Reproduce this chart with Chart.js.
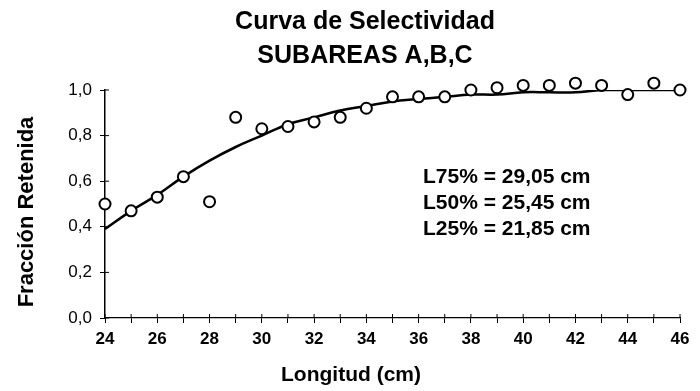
<!DOCTYPE html>
<html>
<head>
<meta charset="utf-8">
<script src="https://cdn.jsdelivr.net/npm/chart.js@4/dist/chart.umd.min.js"></script>
<style>
  html, body { margin: 0; padding: 0; background: #fff; }
  #wrap { width: 700px; height: 391px; position: relative; }
</style>
</head>
<body>
<div id="wrap"><canvas id="chart"></canvas></div>
<script>
var lengths = [24, 25, 26, 27, 28, 29, 30, 31, 32, 33, 34, 35, 36, 37, 38, 39, 40, 41, 42, 43, 44, 45, 46];
// observed fraction retained (circles)
var retained = [0.50, 0.47, 0.53, 0.62, 0.51, 0.88, 0.83, 0.84, 0.86, 0.88, 0.92, 0.97, 0.97, 0.97, 1.00, 1.01, 1.02, 1.02, 1.03, 1.02, 0.98, 1.03, 1.00];
// fitted curve
var fitted = [0.39, 0.47, 0.54, 0.62, 0.69, 0.75, 0.80, 0.85, 0.88, 0.91, 0.93, 0.95, 0.96, 0.97, 0.98, 0.98, 0.99, 0.99, 0.99, 1.00, 1.00, 1.00, 1.00];
var yTicks = [0, 0.2, 0.4, 0.6, 0.8, 1.0];
var titleLines = ["Curva de Selectividad", "SUBAREAS A,B,C"];
var notes = ["L75% = 29,05 cm", "L50% = 25,45 cm", "L25% = 21,85 cm"];
var xTitle = "Longitud (cm)";
var yTitle = "Fracción Retenida";

var FONT = '"Liberation Sans", Arial, sans-serif';
var ctx = document.getElementById("chart").getContext('2d');

function pts(ys) {
  return lengths.map(function (x, i) { return { x: x, y: ys[i] }; });
}

// titles, the L% notes and the inner half of the tick marks
var extras = {
  id: 'extras',
  afterDraw: function (chart) {
    var c = chart.ctx, a = chart.chartArea;
    var xs = chart.scales.x, ys = chart.scales.y;
    c.save();
    c.strokeStyle = '#000';
    c.lineWidth = 1;
    c.beginPath();
    for (var v = 24; v <= 46; v++) {
      var px = xs.getPixelForValue(v);
      c.moveTo(px, a.bottom - 4); c.lineTo(px, a.bottom);
    }
    yTicks.forEach(function (t) {
      var py = ys.getPixelForValue(t);
      c.moveTo(a.left, py); c.lineTo(a.left + 4, py);
    });
    c.stroke();

    c.fillStyle = '#000';
    c.textAlign = 'center';
    c.textBaseline = 'middle';
    c.font = 'bold 25px ' + FONT;
    c.fillText(titleLines[0], 365, 22);
    c.fillText(titleLines[1], 365, 56);

    c.font = 'bold 21px ' + FONT;
    c.fillText(xTitle, 351, 375);

    c.save();
    c.translate(27, 212);
    c.rotate(-Math.PI / 2);
    c.font = 'bold 22px ' + FONT;
    c.fillText(yTitle, 0, 0);
    c.restore();

    c.textAlign = 'left';
    c.font = 'bold 21px ' + FONT;
    notes.forEach(function (n, i) {
      c.fillText(n, 423, 177 + i * 26);
    });
    c.restore();
  }
};

var myChart = new Chart(ctx, {
  type: 'line',
  data: {
    datasets: [{
      label: 'Ajuste',
      data: pts(fitted),
      borderColor: '#000',
      borderWidth: 2.5,
      pointRadius: 0,
      tension: 0.4,
      fill: false,
      order: 2
    }, {
      label: 'Observado',
      data: pts(retained),
      showLine: false,
      pointRadius: 5.5,
      pointBorderWidth: 2,
      pointBorderColor: '#000',
      pointBackgroundColor: '#fff',
      clip: false,
      order: 1
    }]
  },
  options: {
    responsive: true,
    maintainAspectRatio: false,
    animation: false,
    layout: { padding: { top: 90, left: 0, right: 20, bottom: 0 } },
    plugins: {
      legend: { display: false },
      tooltip: { enabled: false }
    },
    scales: {
      x: {
        type: 'linear',
        min: 24,
        max: 46,
        afterFit: function (s) { s.height = 73; },
        border: { color: '#000', width: 1.2 },
        grid: { drawOnChartArea: false, color: '#000', tickLength: 5 },
        ticks: {
          stepSize: 1,
          autoSkip: false,
          maxRotation: 0,
          color: '#000',
          padding: 6,
          font: { family: FONT, size: 17, weight: 'bold' },
          callback: function (v) { return v % 2 === 0 ? v : ''; }
        }
      },
      y: {
        min: 0,
        max: 1,
        afterFit: function (s) { s.width = 105; },
        border: { color: '#000', width: 1.5 },
        grid: { drawOnChartArea: false, color: '#000', tickLength: 5 },
        ticks: {
          stepSize: 0.2,
          color: '#000',
          padding: 8,
          font: { family: FONT, size: 17 },
          callback: function (v) { return v.toFixed(1).replace('.', ','); }
        }
      }
    }
  },
  plugins: [extras]
});
</script>
</body>
</html>
